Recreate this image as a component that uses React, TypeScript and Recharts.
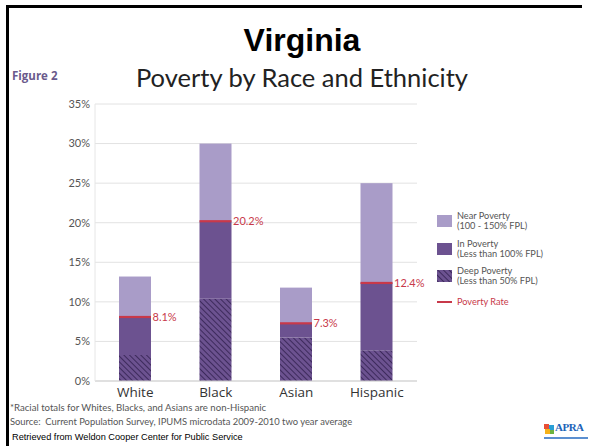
import { Bar, BarChart, CartesianGrid, LabelList, XAxis, YAxis } from "recharts";

const categories = ["White", "Black", "Asian", "Hispanic"];
const deepPoverty = [3.3, 10.4, 5.5, 3.9];
const povertyRate = [8.1, 20.2, 7.3, 12.4];
const nearPovertyTotal = [13.2, 30.0, 11.8, 25.0];
const yTicks = [0, 5, 10, 15, 20, 25, 30, 35];

const data = categories.map((name, i) => ({
  name,
  deep: deepPoverty[i],
  inPov: +(povertyRate[i] - deepPoverty[i]).toFixed(1),
  near: +(nearPovertyTotal[i] - povertyRate[i]).toFixed(1),
  rate: povertyRate[i],
}));

const LIGHT = "#a99cc8";
const MID = "#6c5290";
const DARK = "#3d2a5c";
const RED = "#c8394a";

function NearShape(props: any) {
  const { x, y, width, height } = props;
  return (
    <g>
      <rect x={x} y={y} width={width} height={height} fill={LIGHT} />
      <rect x={x} y={y + height - 1} width={width} height={2.2} fill={RED} />
    </g>
  );
}

function RateLabel(props: any) {
  const { x, y, width, height, value } = props;
  return (
    <text
      x={x + width + 1.5}
      y={y + height + 4}
      fill={RED}
      fontSize={11}
      fontFamily="Lato, sans-serif"
    >
      {`${value.toFixed(1)}%`}
    </text>
  );
}

const legendItems = [
  { top: 215, kind: "light", l1: "Near Poverty", l2: "(100 - 150% FPL)" },
  { top: 243, kind: "mid", l1: "In Poverty", l2: "(Less than 100% FPL)" },
  { top: 270, kind: "deep", l1: "Deep Poverty", l2: "(Less than 50% FPL)" },
];

const small: React.CSSProperties = {
  position: "absolute",
  fontFamily: "Lato, sans-serif",
  whiteSpace: "nowrap",
};

export default function App() {
  return (
    <div
      style={{
        position: "absolute",
        left: 0,
        top: 0,
        width: 592,
        height: 446,
        background: "#fff",
        overflow: "hidden",
      }}
    >
      <div style={{ position: "absolute", left: 6, top: 5, width: 576, height: 3, background: "#000" }} />
      <div style={{ position: "absolute", left: 6, top: 5, width: 3, height: 441, background: "#000" }} />

      <div
        style={{
          ...small,
          left: 0,
          width: 604,
          top: 22,
          textAlign: "center",
          fontFamily: "'Liberation Sans', Arial, sans-serif",
          fontWeight: 700,
          fontSize: 32,
          color: "#000",
        }}
      >
        Virginia
      </div>
      <div
        style={{
          ...small,
          left: 0,
          width: 604,
          top: 62,
          textAlign: "center",
          fontSize: 25.5,
          color: "#222",
        }}
      >
        Poverty by Race and Ethnicity
      </div>
      <div
        style={{
          ...small,
          left: 12,
          top: 68,
          fontSize: 11.5,
          fontWeight: 700,
          fontFamily: "'Open Sans', sans-serif",
          color: "#6a5a8c",
        }}
      >
        Figure 2
      </div>

      <BarChart
        width={592}
        height={446}
        data={data}
        margin={{ top: 104, right: 175, bottom: 35, left: 55 }}
        style={{ position: "absolute", left: 0, top: 0 }}
      >
        <defs>
          <pattern
            id="hatch"
            patternUnits="userSpaceOnUse"
            width={4}
            height={4}
            patternTransform="rotate(-45)"
          >
            <rect width={4} height={4} fill={MID} />
            <line x1={0} y1={0} x2={0} y2={4} stroke={DARK} strokeWidth={2} />
          </pattern>
        </defs>
        <CartesianGrid vertical={false} stroke="#e2e2e2" />
        <XAxis
          dataKey="name"
          tickLine={false}
          axisLine={{ stroke: "#cfcfcf" }}
          height={30}
          tick={{ fontSize: 13.5, fill: "#333", fontFamily: "'Open Sans', sans-serif" }}
          dy={-2}
        />
        <YAxis
          domain={[0, 35]}
          ticks={yTicks}
          interval={0}
          tickFormatter={(v) => `${v}%`}
          tickLine={false}
          tickSize={5}
          tickMargin={0}
          axisLine={{ stroke: "#e6e6e6" }}
          width={40}
          tick={{ fontSize: 11, fill: "#555", fontFamily: "Lato, sans-serif" }}
        />
        <Bar dataKey="deep" stackId="a" fill="url(#hatch)" barSize={32} isAnimationActive={false} />
        <Bar dataKey="inPov" stackId="a" fill={MID} barSize={32} isAnimationActive={false} />
        <Bar
          dataKey="near"
          stackId="a"
          fill={LIGHT}
          barSize={32}
          shape={NearShape}
          isAnimationActive={false}
        >
          <LabelList dataKey="rate" content={RateLabel} />
        </Bar>
      </BarChart>

      {legendItems.map((it) => (
        <div key={it.l1}>
          <svg
            width={15}
            height={12}
            style={{ position: "absolute", left: 437, top: it.top }}
          >
            <defs>
              <pattern
                id={"lh" + it.kind}
                patternUnits="userSpaceOnUse"
                width={4}
                height={4}
                patternTransform="rotate(-45)"
              >
                <rect width={4} height={4} fill={MID} />
                <line x1={0} y1={0} x2={0} y2={4} stroke={DARK} strokeWidth={2} />
              </pattern>
            </defs>
            <rect
              width={15}
              height={12}
              fill={it.kind === "light" ? LIGHT : it.kind === "mid" ? MID : `url(#lh${it.kind})`}
            />
          </svg>
          <div style={{ ...small, left: 457, top: it.top - 4, fontSize: 9.2, lineHeight: "9.5px", color: "#555" }}>
            {it.l1}
            <br />
            {it.l2}
          </div>
        </div>
      ))}
      <div style={{ position: "absolute", left: 437, top: 301, width: 15, height: 2, background: RED }} />
      <div style={{ ...small, left: 457, top: 296, fontSize: 9.2, color: RED }}>Poverty Rate</div>

      <div style={{ ...small, left: 10, top: 402, fontSize: 9.6, color: "#555" }}>
        *Racial totals for Whites, Blacks, and Asians are non-Hispanic
      </div>
      <div style={{ ...small, left: 10, top: 416, fontSize: 9.4, color: "#555" }}>
        Source:&nbsp; Current Population Survey, IPUMS microdata 2009-2010 two year average
      </div>
      <div
        style={{
          ...small,
          left: 12,
          top: 432,
          fontSize: 9.2,
          color: "#000",
          fontFamily: "'Liberation Sans', Arial, sans-serif",
        }}
      >
        Retrieved from Weldon Cooper Center for Public Service
      </div>

      <div style={{ position: "absolute", left: 544, top: 424, width: 5, height: 5, background: "#e94f35" }} />
      <div style={{ position: "absolute", left: 549, top: 425, width: 5, height: 5, background: "#2a9fd6" }} />
      <div style={{ position: "absolute", left: 545, top: 429, width: 5, height: 5, background: "#f5b21b" }} />
      <div style={{ position: "absolute", left: 550, top: 430, width: 4, height: 4, background: "#6cb33f" }} />
      <div
        style={{
          ...small,
          left: 555,
          top: 421,
          fontSize: 11,
          fontWeight: 700,
          color: "#1d63b8",
          fontFamily: "'Liberation Serif', serif",
          letterSpacing: -0.5,
        }}
      >
        APRA
      </div>
      <div style={{ position: "absolute", left: 544, top: 437, width: 44, height: 2, background: "#5b8fd0" }} />
    </div>
  );
}
